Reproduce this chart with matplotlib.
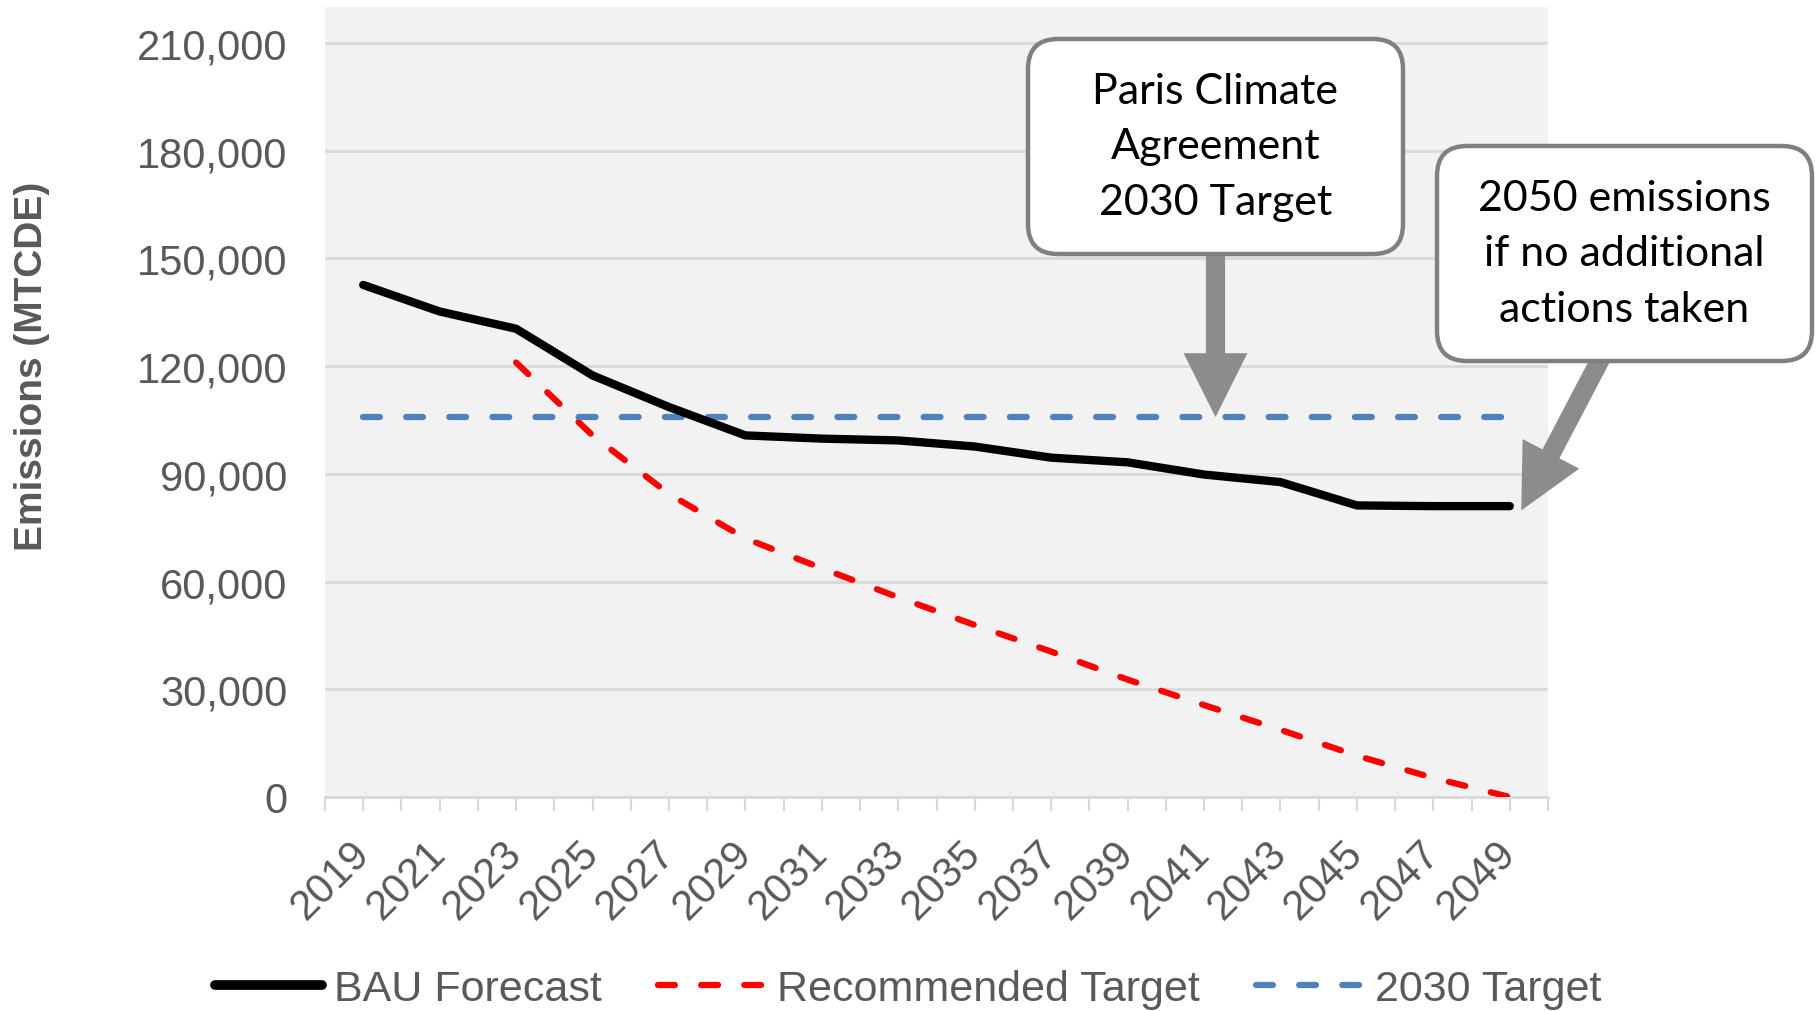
import matplotlib
matplotlib.use("Agg")
import matplotlib.pyplot as plt
from matplotlib.patches import FancyBboxPatch
from matplotlib.lines import Line2D
from matplotlib.ticker import FuncFormatter

# data (odd years)
years = [2019, 2021, 2023, 2025, 2027, 2029, 2031, 2033, 2035, 2037, 2039, 2041, 2043, 2045, 2047, 2049]
bau = [142600, 135200, 130400, 117400, 108600, 100700, 99800, 99300, 97600, 94500, 93200, 89800, 87700, 81200, 81000, 81000]
rec_years = [2023, 2025, 2027, 2029, 2031, 2033, 2035, 2037, 2039, 2041, 2043, 2045, 2047, 2049]
recommended = [121000, 100700, 84400, 72000, 63700, 55600, 47900, 40500, 32700, 25600, 18700, 11500, 5300, 0]
target_2030 = 105800
yticks = [0, 30000, 60000, 90000, 120000, 150000, 180000, 210000]

txt_grey = "#595959"
grid_grey = "#D9D9D9"
plt.rcParams["font.family"] = ["Liberation Sans", "DejaVu Sans"]

fig = plt.figure(figsize=(18.16, 10.12), dpi=100)
ax = fig.add_axes([325 / 1816, 1 - 798 / 1012, 1223 / 1816, 790 / 1012])
ax.set_facecolor("#F2F2F2")

dash = dict(lw=4.5, dashes=(2.7, 4.2), dash_capstyle="round")
ax.plot(years, bau, color="black", lw=6, solid_capstyle="round", solid_joinstyle="round",
        label="BAU Forecast", zorder=4)
ax.plot(rec_years, recommended, color="#FF0000", label="Recommended Target", zorder=3, **dash)
ax.plot([years[0], years[-1]], [target_2030, target_2030], color="#4F81BD",
        label="2030 Target", zorder=3, **dash)

ax.set_xlim(2018, 2050)
ax.set_ylim(0, 220000)
ax.set_yticks(yticks)
ax.yaxis.set_major_formatter(FuncFormatter(lambda v, p: f"{int(v):,}"))
ax.grid(axis="y", color=grid_grey, lw=2)
ax.set_axisbelow(True)
for s in ["top", "right", "left"]:
    ax.spines[s].set_visible(False)
ax.spines["bottom"].set_color(grid_grey)
ax.spines["bottom"].set_linewidth(2)

ax.set_xticks(years)
ax.set_xticklabels([str(y) for y in years], rotation=45, ha="right", va="center",
                   rotation_mode="anchor")
ax.set_xticks(range(2018, 2051, 2), minor=True)
ax.tick_params(axis="x", which="both", length=10, width=1.5, color=grid_grey,
               labelsize=30, labelcolor=txt_grey, pad=26)
ax.tick_params(axis="y", length=0, labelsize=30, labelcolor=txt_grey, pad=27)

fig.text(32 / 1816, 1 - 366 / 1012, "Emissions (MTCDE)", rotation=90, ha="center",
         va="center", fontsize=28, fontweight="bold", color=txt_grey)

# callout arrows
arrow_style = "simple,head_length=1.0,head_width=1.0,tail_width=0.3"
ax.annotate("", xy=(2041.3, target_2030), xytext=(2041.3, 160000),
            arrowprops=dict(arrowstyle=arrow_style, color="#8C8C8C", mutation_scale=46,
                            shrinkA=0, shrinkB=0, lw=0),
            annotation_clip=False, zorder=5)
ax.annotate("", xy=(2049.3, 79800), xytext=(2051.5, 124500),
            arrowprops=dict(arrowstyle=arrow_style, color="#8C8C8C", mutation_scale=46,
                            shrinkA=0, shrinkB=0, lw=0, clip_on=False),
            annotation_clip=False, zorder=5)

# callout boxes
boxes = [
    (10.28, 7.57, "Paris Climate\nAgreement\n2030 Target"),
    (14.37, 6.50, "2050 emissions\nif no additional\nactions taken"),
]
for bx, by, label in boxes:
    patch = FancyBboxPatch((bx, by), 3.75, 2.15, boxstyle="round,pad=0,rounding_size=0.3",
                           transform=fig.dpi_scale_trans, facecolor="white",
                           edgecolor="#808080", lw=3.2, zorder=10)
    fig.add_artist(patch)
    fig.text((bx + 1.875) / 18.16, (by + 1.075) / 10.12, label, ha="center", va="center",
             fontsize=31, family=["Lato", "DejaVu Sans"], linespacing=1.58, color="black",
             zorder=11)

handles = [
    Line2D([], [], color="black", lw=7, solid_capstyle="round"),
    Line2D([], [], color="#FF0000", **dash),
    Line2D([], [], color="#4F81BD", **dash),
]
leg = fig.legend(handles, ["BAU Forecast", "Recommended Target", "2030 Target"],
                 loc="center", bbox_to_anchor=(0.5, 0.022), ncol=3, frameon=False,
                 fontsize=31, handlelength=2.5, handletextpad=0.27, columnspacing=1.3)
for t in leg.get_texts():
    t.set_color(txt_grey)

fig.savefig("out.png", dpi=100)
